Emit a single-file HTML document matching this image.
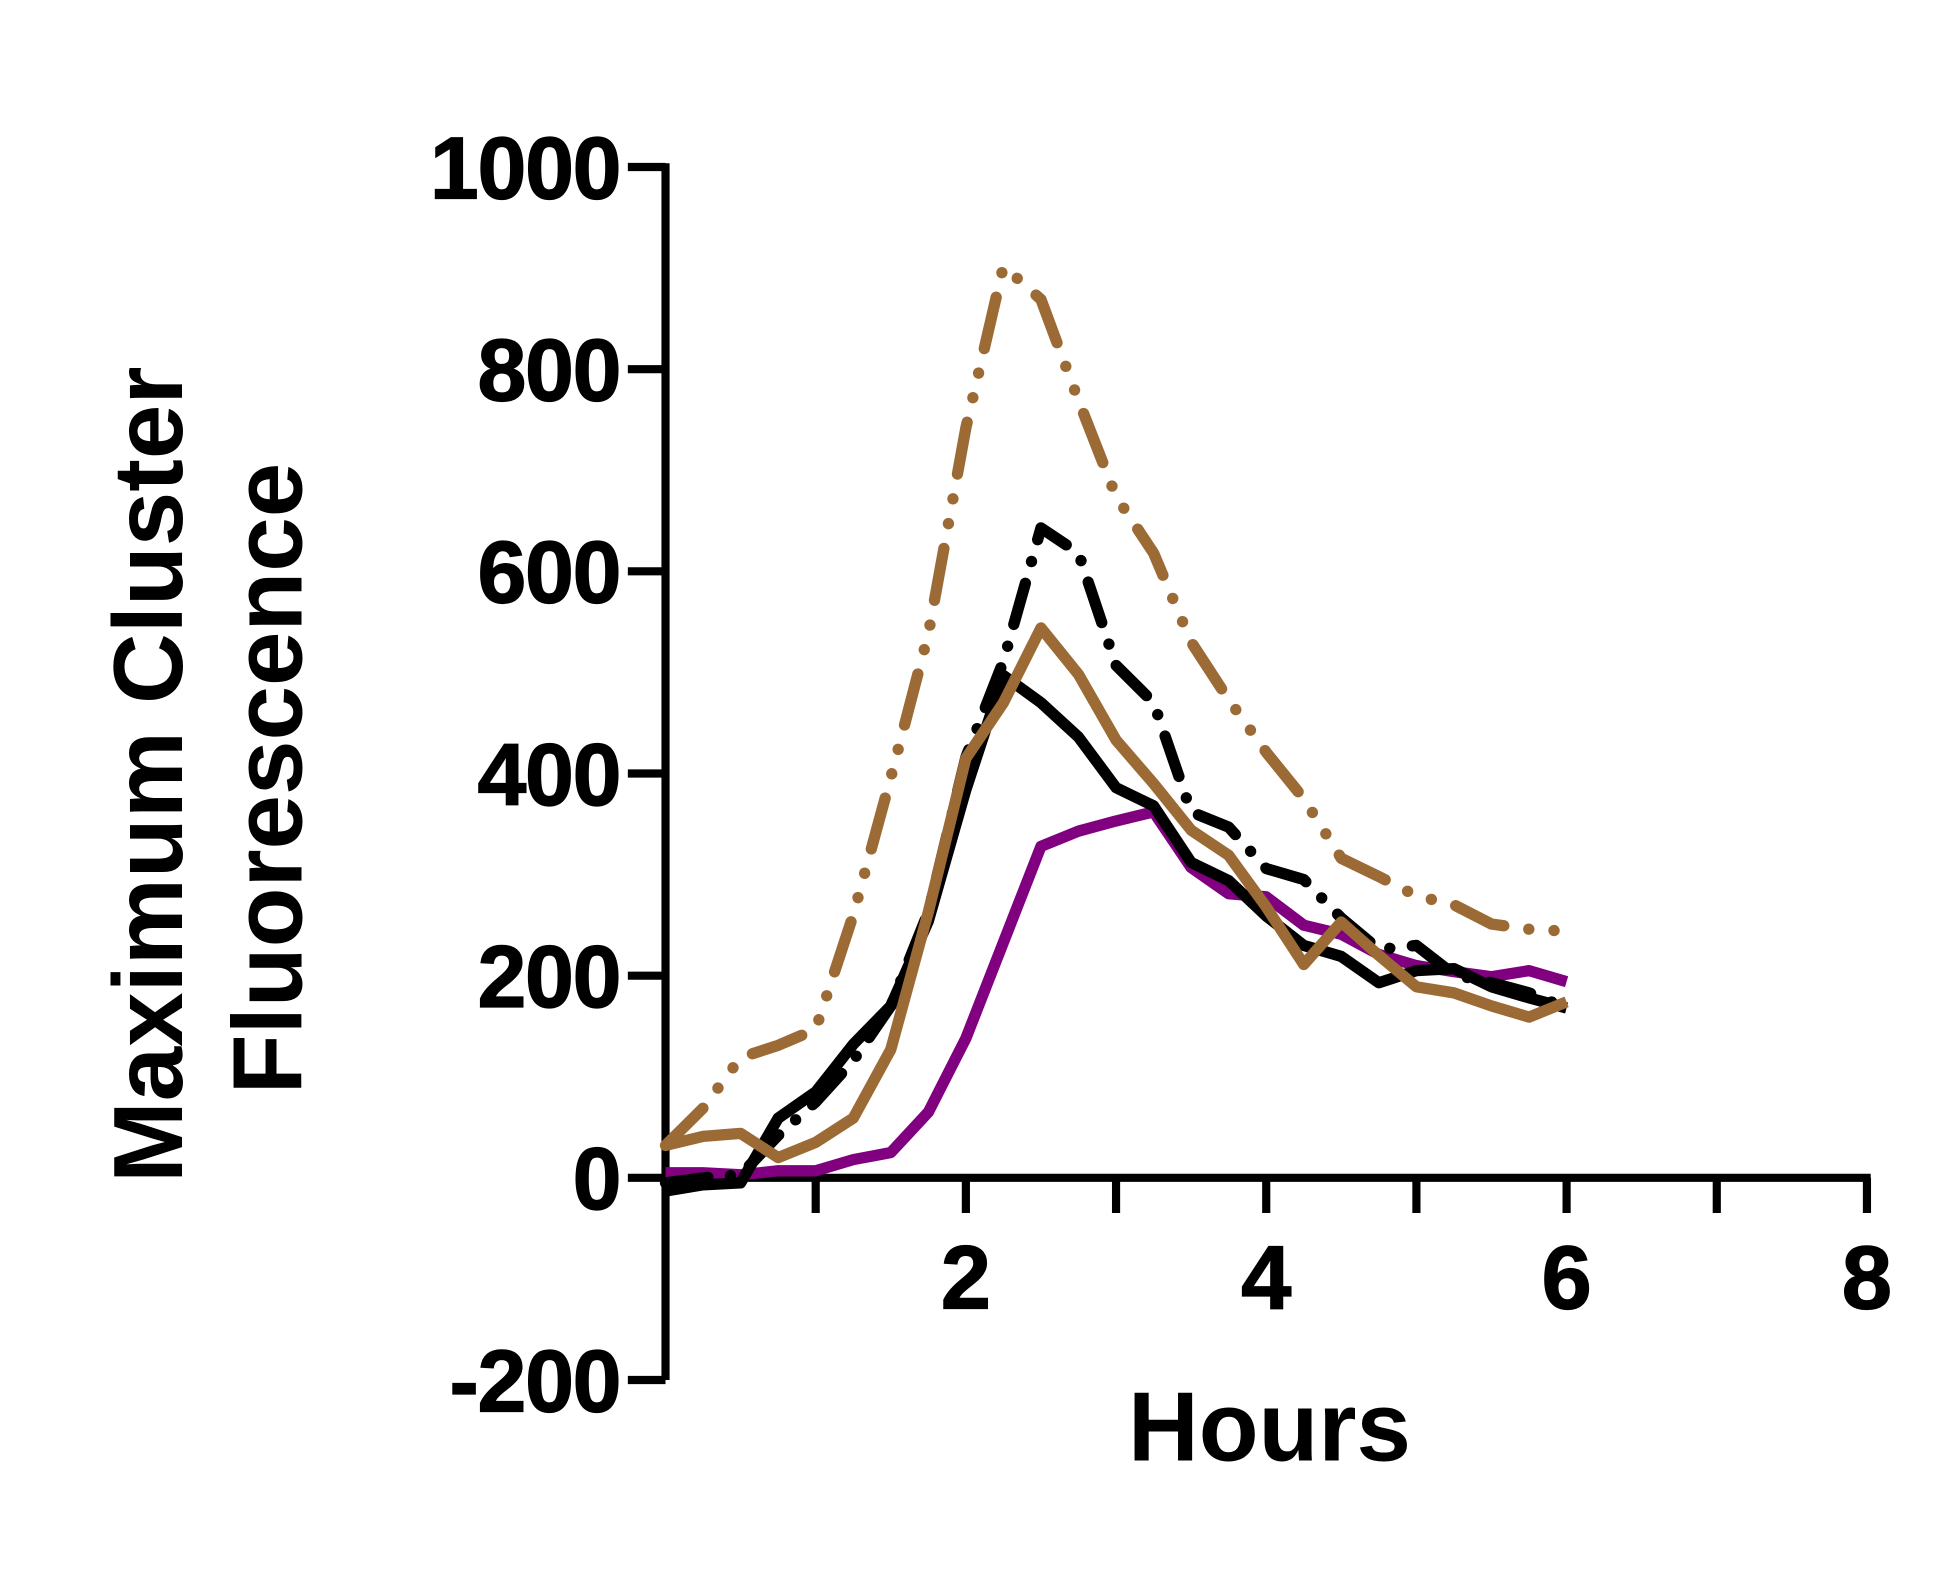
<!DOCTYPE html>
<html><head><meta charset="utf-8"><style>html,body{margin:0;padding:0;background:#fff}svg{display:block}</style></head>
<body>
<svg id="chart" width="1959" height="1575" viewBox="0 0 1560.1 1254.3" xmlns="http://www.w3.org/2000/svg" font-family="Liberation Sans, Arial, sans-serif" font-weight="bold">
<g id="axes"></g>
<g id="series"></g>
<text x="1011" y="1163" font-size="78" text-anchor="middle">Hours</text>
<text transform="translate(118,617) rotate(-90)" font-size="78" text-anchor="middle" dominant-baseline="central">Maximum Cluster</text>
<text transform="translate(213,620) rotate(-90)" font-size="78" text-anchor="middle" dominant-baseline="central">Fluorescence</text>
</svg>
<script>
const hours = [0,0.25,0.5,0.75,1,1.25,1.5,1.75,2,2.25,2.5,2.75,3,3.25,3.5,3.75,4,4.25,4.5,4.75,5,5.25,5.5,5.75,6];
const purpleSolid = [5,5,3,7,7,18,25,65,138,233,328,343,353,362,307,281,278,250,241,221,210,204,199,205,194];
const blackSolid = [-13,-7,-5,59,85,132,170,254,384,497,470,436,386,368,312,294,259,230,219,193,205,207,189,178,168];
const blackDashDot = [-5,0,3,42,75,116,170,263,416,511,643,618,507,470,362,347,306,295,257,226,230,201,193,183,168];
const brownDashDot = [32,69,119,131,147,260,396,538,742,902,869,769,674,618,530,473,421,375,316,298,279,270,251,246,244];
const brownSolid = [32,41,44,20,35,59,127,263,415,470,544,498,433,390,344,319,268,211,253,220,189,183,170,159,174];
const yTicks = [-200,0,200,400,600,800,1000];
const xTickVals = [1,2,3,4,5,6,7,8];
const xLabels = [2,4,6,8];

const NS = 'http://www.w3.org/2000/svg';
const X0 = 530, PXH = 119.6, Y0 = 938, PXU = 0.805;
const sx = h => X0 + h * PXH;
const sy = v => Y0 - v * PXU;
function mk(tag, attrs, parent) {
  const e = document.createElementNS(NS, tag);
  for (const k in attrs) e.setAttribute(k, attrs[k]);
  parent.appendChild(e);
  return e;
}
const axes = document.getElementById('axes');
let el = mk('line', {x1: sx(0), y1: sy(-200), x2: sx(0), y2: sy(1000) - 3, stroke: '#000', 'stroke-width': 6.5}, axes);


el = mk('line', {x1: sx(0) - 3, y1: sy(0), x2: sx(8) + 3, y2: sy(0), stroke: '#000', 'stroke-width': 6.5}, axes);


yTicks.forEach(v => {
  const t = mk('line', {x1: sx(0) - 30, y1: sy(v), x2: sx(0), y2: sy(v), stroke: '#000', 'stroke-width': 6.5}, axes);
  
  
  const l = mk('text', {x: 494, y: sy(v) + 25, 'font-size': 70, 'text-anchor': 'end', 'letter-spacing': -1, stroke: '#000', 'stroke-width': 1}, axes);
  l.textContent = v;
  
  
});
xTickVals.forEach(h => {
  const t = mk('line', {x1: sx(h), y1: sy(0), x2: sx(h), y2: sy(0) + 28, stroke: '#000', 'stroke-width': 6.5}, axes);
  
  
});
xLabels.forEach(h => {
  const l = mk('text', {x: sx(h), y: 1042, 'font-size': 72, 'text-anchor': 'middle', stroke: '#000', 'stroke-width': 1}, axes);
  l.textContent = h;
  
  
});
const seriesG = document.getElementById('series');
function drawSeries(vals, color, dash, name) {
  const d = vals.map((v, i) => (i ? 'L' : 'M') + sx(hours[i]).toFixed(1) + ',' + sy(v).toFixed(1)).join(' ');
  const p = mk('path', {d: d, fill: 'none', stroke: color, 'stroke-width': 9, 'stroke-linejoin': 'round', 'stroke-linecap': dash ? 'round' : 'butt'}, seriesG);
  if (dash) p.setAttribute('stroke-dasharray', dash);
  
  
}
drawSeries(purpleSolid, '#800080', null, 'series-purple-solid');
drawSeries(blackDashDot, '#000', '34 18 0.1 18', 'series-black-dash-dot');
drawSeries(brownDashDot, '#9c6a35', '42 20 0.1 20 0.1 20', 'series-brown-dash-dot');
drawSeries(blackSolid, '#000', null, 'series-black-solid');
drawSeries(brownSolid, '#9c6a35', null, 'series-brown-solid');
</script>
</body></html>
